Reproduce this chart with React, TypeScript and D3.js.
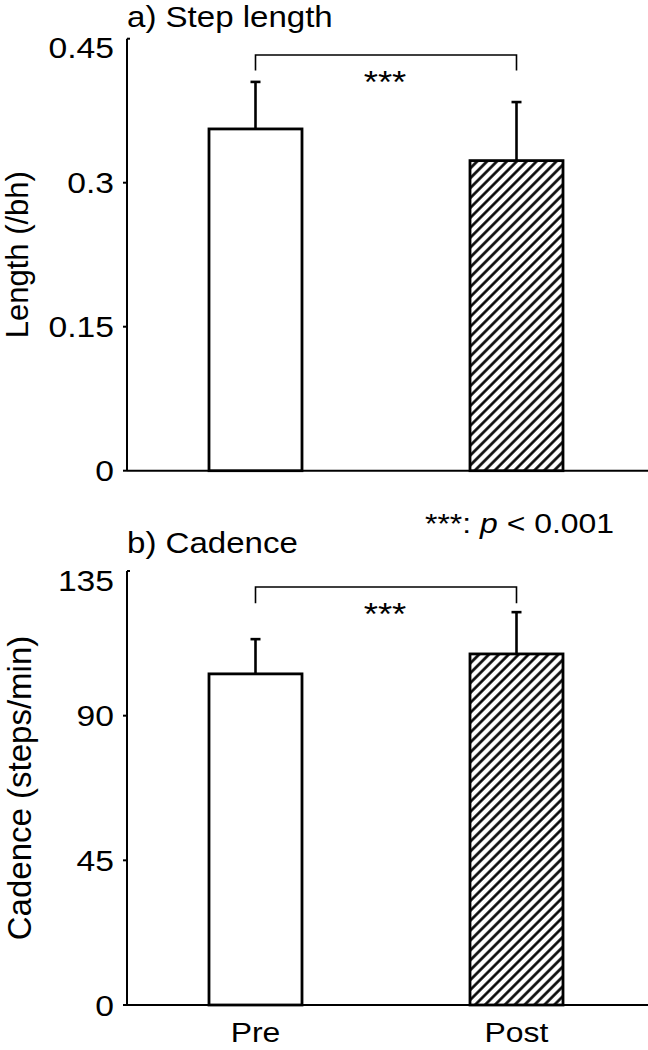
import React from "react";
import * as d3 from "d3";

const categories = ["Pre", "Post"];
const stepLength = [0.356, 0.323];
const stepLengthErr = [0.405, 0.384];
const cadence = [103.0, 109.2];
const cadenceErr = [113.8, 122.2];
const stepTicks = [0, 0.15, 0.3, 0.45];
const cadenceTicks = [0, 45, 90, 135];
const stepTickLabels = ["0", "0.15", "0.3", "0.45"];
const cadenceTickLabels = ["0", "45", "90", "135"];

const W = 648;
const H = 1050;
const AX = 127;
const FONT = "'Liberation Sans', Arial, sans-serif";
const SX = 1.14;

type PanelProps = {
  title: string;
  ylabel: string;
  ylabelSize: number;
  ylabelX: number;
  values: number[];
  errs: number[];
  ticks: number[];
  tickLabels: string[];
  yTop: number;
  yBottom: number;
  max: number;
  bracketTop: number;
  bracketDrop: number;
  titleY: number;
};

const x = d3.scalePoint<string>().domain(categories).range([255.5, 516.5]);
const BW = 93;

function Panel(p: PanelProps) {
  const y = d3.scaleLinear().domain([0, p.max]).range([p.yBottom, p.yTop]);
  const mid = (p.yTop + p.yBottom) / 2;
  const xPre = x(categories[0])!;
  const xPost = x(categories[1])!;
  return (
    <g>
      <g transform={`translate(${AX},${p.titleY}) scale(${SX},1)`}>
        <text x={0} y={0} fontSize={29} fontFamily={FONT}>{p.title}</text>
      </g>
      <text
        transform={`translate(${p.ylabelX},${mid}) rotate(-90)`}
        textAnchor="middle"
        fontSize={p.ylabelSize}
        fontFamily={FONT}
      >
        {p.ylabel}
      </text>
      <line x1={AX} x2={AX} y1={y(p.max)} y2={y(0)} stroke="#000" strokeWidth={2} />
      <line x1={AX} x2={W} y1={y(0)} y2={y(0)} stroke="#000" strokeWidth={2} />
      {p.ticks.map((t, i) => {
        const isTop = t === p.max;
        return (
          <g key={i}>
            <line x1={isTop ? AX : AX - 4} x2={isTop ? AX + 3 : AX} y1={y(t)} y2={y(t)} stroke="#000" strokeWidth={2} />
            <g transform={`translate(114,${y(t) + (isTop ? 9 : 0)}) scale(${SX},1)`}>
              <text x={0} y={0} dy="0.36em" textAnchor="end" fontSize={29.5} fontFamily={FONT}>
                {p.tickLabels[i]}
              </text>
            </g>
          </g>
        );
      })}
      {categories.map((c, i) => {
        const cx = x(c)!;
        return (
          <g key={c}>
            <line x1={cx} x2={cx} y1={y(p.values[i])} y2={y(p.errs[i])} stroke="#000" strokeWidth={2.6} />
            <line x1={cx - 5} x2={cx + 5} y1={y(p.errs[i])} y2={y(p.errs[i])} stroke="#000" strokeWidth={2.6} />
            <rect
              x={cx - BW / 2}
              y={y(p.values[i])}
              width={BW}
              height={y(0) - y(p.values[i])}
              fill={i === 0 ? "#fff" : "url(#hatch)"}
              stroke="#000"
              strokeWidth={2.8}
            />
          </g>
        );
      })}
      <path
        d={`M${xPre},${y(p.bracketDrop)}V${y(p.bracketTop)}H${xPost}V${y(p.bracketDrop)}`}
        fill="none"
        stroke="#000"
        strokeWidth={1.6}
      />
      <g transform={`translate(${(xPre + xPost) / 2 - 1},${y(p.bracketTop) + 38}) scale(${SX},1)`}>
        <text x={0} y={0} textAnchor="middle" fontSize={32} fontFamily={FONT}>***</text>
      </g>
    </g>
  );
}

export default function App() {
  return (
    <svg
      width={W}
      height={H}
      style={{ position: "absolute", left: 0, top: 0, background: "#fff" }}
    >
      <defs>
        <pattern id="hatch" patternUnits="userSpaceOnUse" width={7} height={7} patternTransform="rotate(45)">
          <rect width={7} height={7} fill="#fff" />
          <line x1={3.5} x2={3.5} y1={0} y2={7} stroke="#000" strokeWidth={2.6} />
        </pattern>
      </defs>
      <Panel
        title="a) Step length"
        ylabel="Length (/bh)"
        ylabelSize={31}
        ylabelX={28}
        values={stepLength}
        errs={stepLengthErr}
        ticks={stepTicks}
        tickLabels={stepTickLabels}
        yTop={38.7}
        yBottom={470.7}
        max={0.45}
        bracketTop={0.433}
        bracketDrop={0.417}
        titleY={27}
      />
      <Panel
        title="b) Cadence"
        ylabel="Cadence (steps/min)"
        ylabelSize={33}
        ylabelX={31}
        values={cadence}
        errs={cadenceErr}
        ticks={cadenceTicks}
        tickLabels={cadenceTickLabels}
        yTop={571}
        yBottom={1005}
        max={135}
        bracketTop={130}
        bracketDrop={125}
        titleY={553}
      />
      <g transform={`translate(425,533) scale(${SX},1)`}>
        <text x={0} y={0} fontSize={28} fontFamily={FONT}>
          ***: <tspan fontStyle="italic">p</tspan> {"< 0.001"}
        </text>
      </g>
      {categories.map((c) => (
        <g key={c} transform={`translate(${x(c)},1042) scale(${SX},1)`}>
          <text x={0} y={0} textAnchor="middle" fontSize={28} fontFamily={FONT}>{c}</text>
        </g>
      ))}
    </svg>
  );
}
